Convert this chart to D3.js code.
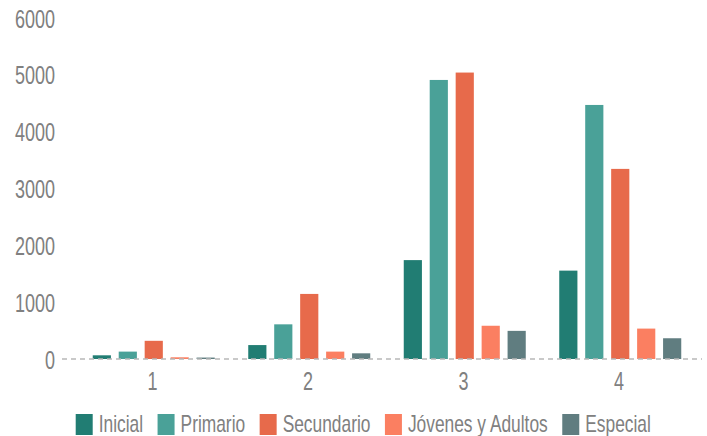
<!DOCTYPE html>
<html><head><meta charset="utf-8">
<script src="https://cdn.jsdelivr.net/npm/d3@7/dist/d3.min.js"></script>
<style>body{margin:0;background:#fff}svg{display:block}</style>
</head><body>
<svg id="c" width="707" height="436"></svg>
<script>
const categories = ["1","2","3","4"];
const seriesNames = ["Inicial","Primario","Secundario","Jóvenes y Adultos","Especial"];
const inicial    = [65, 245, 1740, 1555];
const primario   = [130, 610, 4910, 4470];
const secundario = [320, 1145, 5040, 3345];
const jovenes    = [30, 130, 585, 535];
const especial   = [25, 100, 495, 365];
const yTicks = [0,1000,2000,3000,4000,5000,6000];
const colors = ["#217d73","#4aa198","#e76a4b","#fb7f61","#607d80"];

const seriesValues = [inicial, primario, secundario, jovenes, especial];
const svg = d3.select("#c");
const textColor = "#808080";
const fontFamily = "'Liberation Sans', Arial, sans-serif";
const sx = 0.72, fs = 25;

const x0 = d3.scaleBand().domain(categories).range([75.75, 697.75]).paddingInner(0).paddingOuter(0);
const x1 = d3.scaleBand().domain(seriesNames).range([17, 139]).paddingInner(0.3).paddingOuter(0);
const y = d3.scaleLinear().domain([0,6000]).range([359,18]);

function label(g, x, yy, txt, anchor) {
  g.append("text")
    .attr("transform", `translate(${x},${yy}) scale(${sx},1)`)
    .attr("text-anchor", anchor)
    .attr("dominant-baseline", "central")
    .attr("font-family", fontFamily)
    .attr("font-size", fs)
    .attr("fill", textColor)
    .text(txt);
}

// y axis labels
const yg = svg.append("g");
yTicks.forEach(t => label(yg, 55, y(t) + 1, String(t), "end"));

// bars
const groups = svg.append("g").selectAll("g").data(categories).join("g")
  .attr("transform", d => `translate(${x0(d)},0)`);
groups.selectAll("rect")
  .data((d, i) => seriesNames.map((s, j) => ({s, v: seriesValues[j][i], c: colors[j]})))
  .join("rect")
  .attr("x", d => x1(d.s))
  .attr("width", x1.bandwidth())
  .attr("y", d => y(d.v))
  .attr("height", d => y(0) - y(d.v))
  .attr("fill", d => d.c);

// baseline dashed
svg.append("line")
  .attr("x1", 62).attr("x2", 702).attr("y1", y(0)).attr("y2", y(0))
  .attr("stroke", "#b8b8b8").attr("stroke-width", 1.5).attr("stroke-dasharray", "5,4");

// x labels
const xg = svg.append("g");
categories.forEach(c => label(xg, x0(c) + x0.bandwidth()/2 - 1, 381, c, "middle"));

// legend
const lg = svg.append("g");
const lsx = 0.755;
let lx = 75.7;
seriesNames.forEach((s, i) => {
  lg.append("rect").attr("x", lx).attr("y", 414).attr("width", 17).attr("height", 21).attr("fill", colors[i]);
  const t = lg.append("text")
    .attr("transform", `translate(${lx + 23},${431.5}) scale(${lsx},1)`)
    .attr("font-family", fontFamily).attr("font-size", 23).attr("fill", textColor)
    .text(s);
  const w = t.node().getComputedTextLength() * lsx;
  lx = lx + 23 + w + 14.5;
});
</script>
</body></html>
